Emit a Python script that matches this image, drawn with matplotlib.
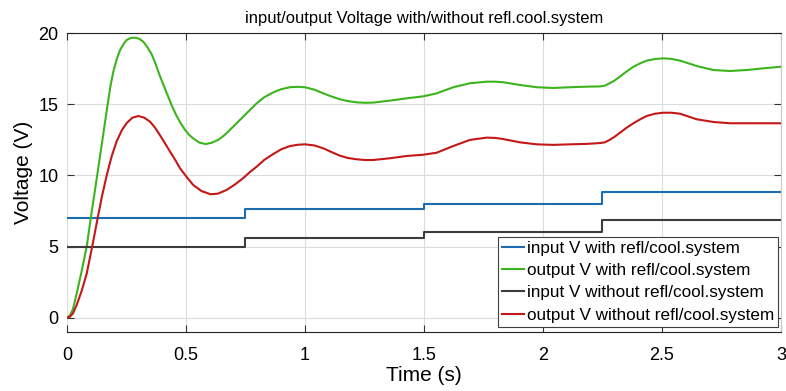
import matplotlib
matplotlib.use("Agg")
import matplotlib.pyplot as plt

plt.rcParams['font.family'] = ['Liberation Sans', 'DejaVu Sans']

# step inputs (value holds from each switch time until the next)
t_in = [0, 0.75, 1.5, 2.25, 3]
v_in_with = [7.0, 7.64, 8.0, 8.86, 8.86]
v_in_without = [5.0, 5.62, 6.0, 6.85, 6.85]

# output with refl/cool system
t_out_with = [0, 0.012, 0.025, 0.041, 0.062, 0.083, 0.1, 0.127, 0.15, 0.171,
              0.183, 0.195, 0.209, 0.223, 0.237, 0.25, 0.268, 0.286, 0.303, 0.32,
              0.338, 0.356, 0.373, 0.39, 0.408, 0.426, 0.443, 0.46, 0.478, 0.496,
              0.513, 0.53, 0.556, 0.583, 0.61, 0.636, 0.66, 0.685, 0.706, 0.727,
              0.76, 0.797, 0.83, 0.867, 0.9, 0.937, 0.97, 1.0, 1.04, 1.077,
              1.11, 1.147, 1.18, 1.217, 1.25, 1.287, 1.357, 1.427, 1.497, 1.553,
              1.623, 1.693, 1.763, 1.8, 1.833, 1.903, 1.973, 2.043, 2.113, 2.183,
              2.24, 2.26, 2.28, 2.3, 2.324, 2.35, 2.38, 2.41, 2.436, 2.47,
              2.506, 2.54, 2.576, 2.646, 2.716, 2.786, 2.856, 2.926, 3.0]
v_out_with = [0, 0.15, 0.6, 1.7, 3.3, 5.0, 7.0, 10.0, 12.6, 15.0,
              16.3, 17.3, 18.15, 18.8, 19.2, 19.5, 19.65, 19.67, 19.6, 19.4,
              19.0, 18.5, 17.8, 17.0, 16.25, 15.5, 14.8, 14.2, 13.65, 13.2,
              12.85, 12.6, 12.3, 12.2, 12.3, 12.5, 12.8, 13.2, 13.55, 13.9,
              14.45, 15.06, 15.5, 15.83, 16.05, 16.19, 16.22, 16.19, 16.02, 15.76,
              15.55, 15.34, 15.22, 15.13, 15.1, 15.11, 15.25, 15.41, 15.55, 15.76,
              16.19, 16.47, 16.58, 16.58, 16.54, 16.35, 16.19, 16.14, 16.19, 16.23,
              16.25, 16.3, 16.47, 16.65, 16.95, 17.28, 17.63, 17.88, 18.06, 18.17,
              18.22, 18.18, 18.06, 17.68, 17.4, 17.33, 17.4, 17.52, 17.63]

# output without refl/cool system
t_out_without = [0, 0.012, 0.025, 0.041, 0.062, 0.083, 0.106, 0.129, 0.148, 0.167,
                 0.188, 0.209, 0.23, 0.25, 0.275, 0.3, 0.325, 0.349, 0.37, 0.39,
                 0.41, 0.433, 0.455, 0.475, 0.5, 0.53, 0.565, 0.604, 0.635, 0.67,
                 0.705, 0.74, 0.77, 0.797, 0.83, 0.867, 0.9, 0.937, 0.97, 1.0,
                 1.04, 1.077, 1.11, 1.147, 1.18, 1.217, 1.25, 1.287, 1.357, 1.427,
                 1.497, 1.553, 1.623, 1.693, 1.763, 1.8, 1.833, 1.903, 1.973, 2.043,
                 2.113, 2.183, 2.24, 2.26, 2.28, 2.3, 2.324, 2.35, 2.38, 2.41,
                 2.436, 2.47, 2.506, 2.54, 2.576, 2.646, 2.716, 2.786, 2.856, 2.926,
                 3.0]
v_out_without = [0, 0.06, 0.3, 0.9, 1.9, 3.1, 5.0, 7.0, 8.6, 10.0,
                 11.35, 12.4, 13.15, 13.66, 14.05, 14.17, 14.05, 13.77, 13.35, 12.84,
                 12.3, 11.67, 11.08, 10.5, 9.95, 9.33, 8.9, 8.67, 8.72, 8.97,
                 9.35, 9.8, 10.25, 10.61, 11.1, 11.5, 11.83, 12.06, 12.15, 12.18,
                 12.1, 11.9, 11.65, 11.38, 11.22, 11.13, 11.08, 11.08, 11.2, 11.36,
                 11.45, 11.59, 12.06, 12.49, 12.65, 12.63, 12.55, 12.32, 12.18, 12.14,
                 12.18, 12.21, 12.27, 12.32, 12.49, 12.7, 13.0, 13.33, 13.66, 13.95,
                 14.17, 14.33, 14.4, 14.4, 14.33, 13.94, 13.75, 13.66, 13.66, 13.66,
                 13.66]

labels = ["input V with refl/cool.system", "output V with refl/cool.system",
          "input V without refl/cool.system", "output V without refl/cool.system"]
colors = ["#1c6db0", "#3bb41e", "#3c3c3c", "#c41717"]

fig = plt.figure(figsize=(7.86, 3.91), dpi=100)
ax = fig.add_axes([0.0852, 0.151, 0.9084, 0.7646])

ax.plot(t_in, v_in_with, drawstyle='steps-post', color=colors[0], lw=1.5, label=labels[0])
ax.plot(t_out_with, v_out_with, color=colors[1], lw=1.5, label=labels[1])
ax.plot(t_in, v_in_without, drawstyle='steps-post', color=colors[2], lw=1.5, label=labels[2])
ax.plot(t_out_without, v_out_without, color=colors[3], lw=1.5, label=labels[3])

ax.set_xlim(0, 3)
ax.set_ylim(-1, 20)
ax.set_xticks([0, 0.5, 1, 1.5, 2, 2.5, 3])
ax.set_xticklabels(["0", "0.5", "1", "1.5", "2", "2.5", "3"])
ax.set_yticks([0, 5, 10, 15, 20])
ax.grid(True, color='#dcdcdc', lw=0.8)
ax.set_axisbelow(True)
ax.tick_params(direction='in', length=5, width=0.8, labelsize=13,
               top=True, right=True, color='#333333')
ax.tick_params(axis='x', pad=11)
ax.tick_params(axis='y', pad=6)

ax.spines['left'].set_visible(False)
ax.spines['right'].set_color('#c8c8c8')
ax.spines['top'].set_color('#222222')
ax.spines['bottom'].set_color('#222222')

ax.set_title("input/output Voltage with/without refl.cool.system", fontsize=11.9, pad=7)
ax.set_xlabel("Time (s)", fontsize=15, labelpad=1)
ax.set_ylabel("Voltage (V)", fontsize=15)
ax.yaxis.set_label_coords(-0.048, 0.535)

leg = ax.legend(loc='lower right', bbox_to_anchor=(0.996, 0.017), borderaxespad=0,
                fontsize=12.3, fancybox=False, framealpha=1, edgecolor='#404040',
                handlelength=1.3, handletextpad=0.15, labelspacing=0.42, borderpad=0.25)
leg.get_frame().set_linewidth(0.8)

fig.savefig("out.png", dpi=100)
